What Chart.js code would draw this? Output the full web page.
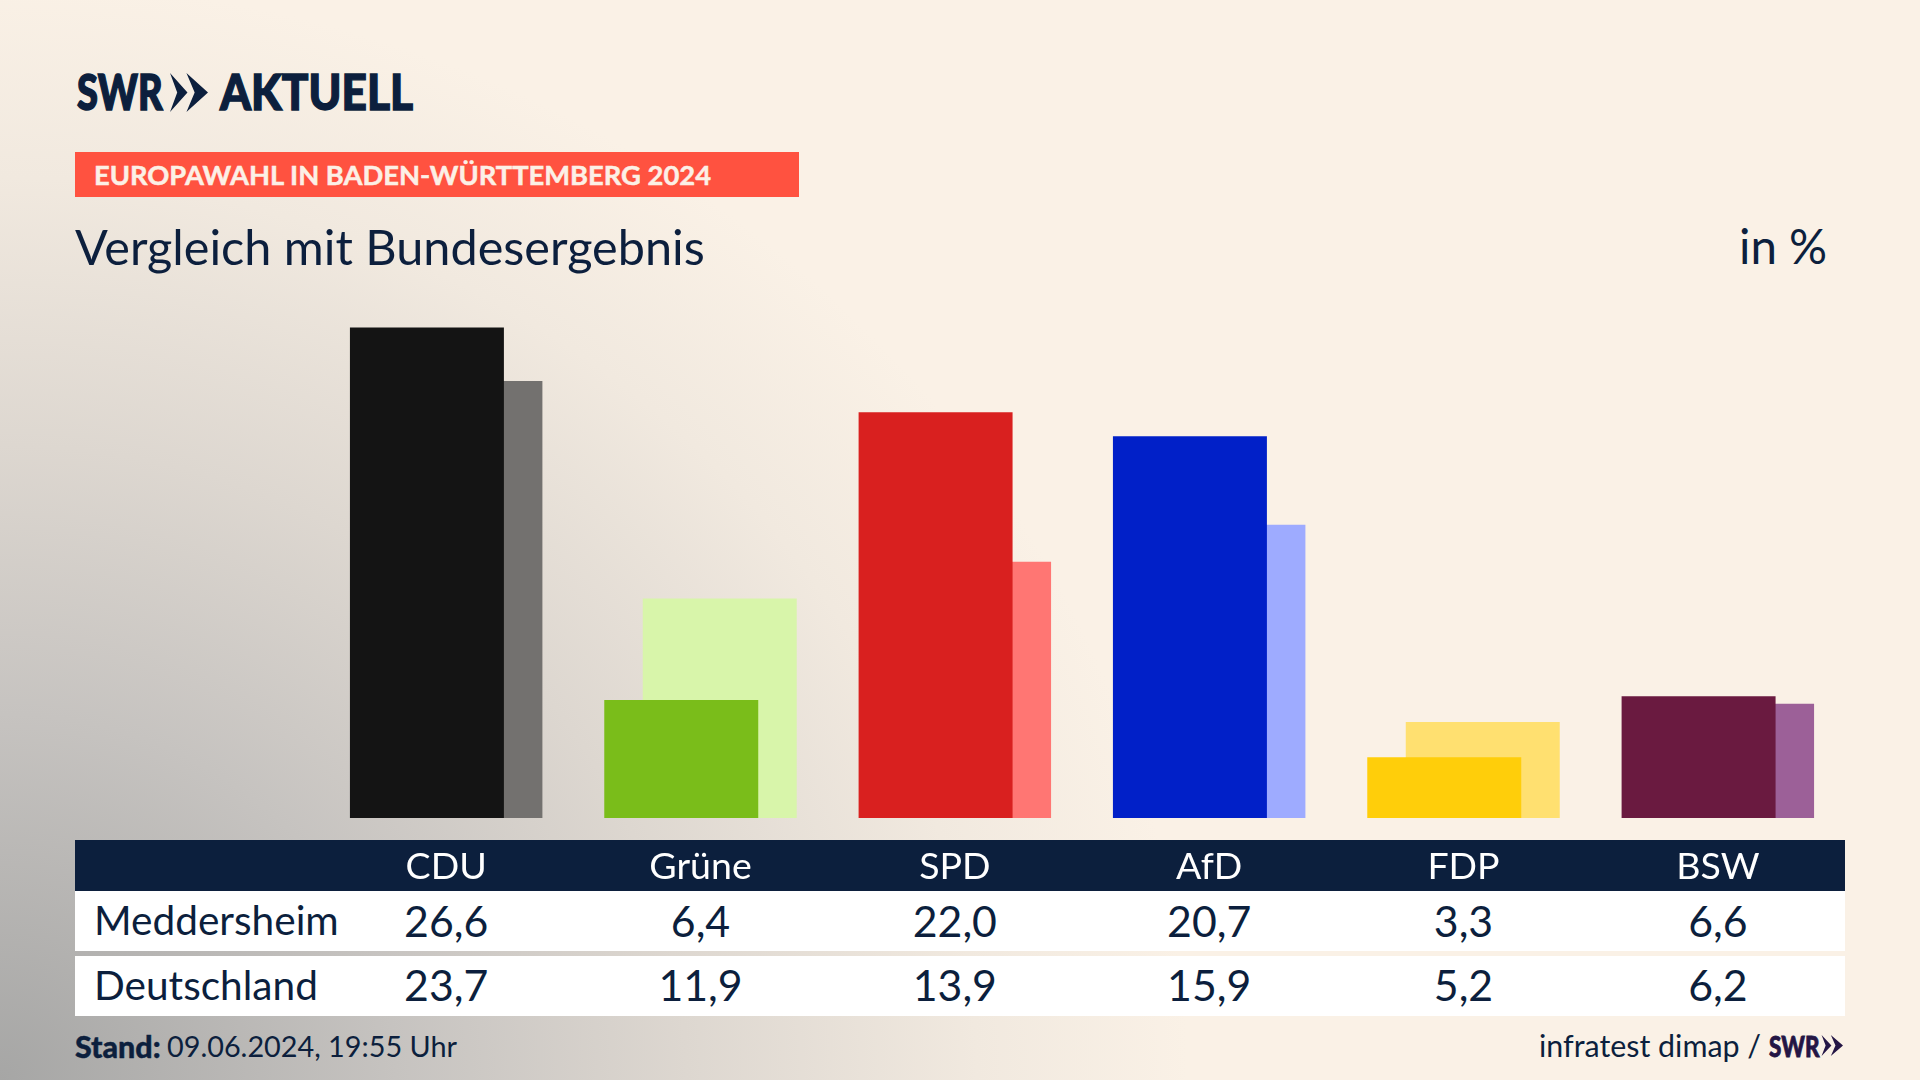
<!DOCTYPE html>
<html lang="de"><head><meta charset="utf-8">
<script src="https://cdn.jsdelivr.net/npm/chart.js@4"></script>
<style>
html,body{margin:0;padding:0;width:1920px;height:1080px;overflow:hidden}
body{position:relative;background:#FAF1E6;font-family:Lato,sans-serif;color:#0C1F3D}
#bg{position:absolute;inset:0;background:radial-gradient(ellipse 1320px 1220px at 0 100%,#a6a6a5 0%,#c6c3c0 30%,#ddd7d0 52%,#f1e9df 74%,#FAF1E6 90%)}
.t{position:absolute;white-space:nowrap;line-height:1;transform-origin:0 0}
.box{position:absolute}
canvas{position:absolute;left:0;top:0;z-index:3}
svg{position:absolute}
</style></head><body>
<div id="bg"></div>
<div id="root"></div>
<canvas id="c" width="1920" height="1080"></canvas>
<script>
const categories = ["CDU","Grüne","SPD","AfD","FDP","BSW"];
const local = [26.6,6.4,22.0,20.7,3.3,6.6];
const national = [23.7,11.9,13.9,15.9,5.2,6.2];
const localName = "Meddersheim";
const nationalName = "Deutschland";
const localColors = ["#141414","#7ABD1A","#D9201F","#0120C8","#FFCE0A","#6A1A40"];
const nationalColors = ["#73716F","#D8F5AA","#FF7673","#9EABFF","#FFE070","#9C6098"];

const root = document.getElementById('root');
function text(s,x,y,size,o={}){
  const e=document.createElement('div');e.className='t';e.textContent=s;
  e.style.left=x+'px';e.style.top=y+'px';e.style.fontSize=size+'px';
  if(o.weight)e.style.fontWeight=o.weight;
  if(o.color)e.style.color=o.color;
  if(o.stroke)e.style.webkitTextStroke=o.stroke+'px '+(o.color||'#0C1F3D');
  if(o.sx)e.style.transform='scaleX('+o.sx+')';
  if(o.center)e.style.transform='translateX(-50%)';
  root.appendChild(e);return e;
}
function box(x,y,w,h,c){const e=document.createElement('div');e.className='box';
  e.style.cssText+=`left:${x}px;top:${y}px;width:${w}px;height:${h}px;background:${c}`;root.appendChild(e);}
function chev(x,y,w,h,c){
  root.insertAdjacentHTML('beforeend',`<svg style="left:${x}px;top:${y}px" width="${w}" height="${h}" viewBox="0 0 38 40" preserveAspectRatio="none"><path fill="${c}" d="M1 0L18 20L1 40L8 20Z M17 0L38 20L17 40L25 20Z"/></svg>`);
}
text("SWR",77,66,50,{weight:900,sx:0.76,stroke:1.6});
chev(169,73,39,39,"#0C1F3D");
text("AKTUELL",220,66,50,{weight:900,sx:0.885,stroke:1.4});
box(75,152,724,45,"#FF5240");
text("EUROPAWAHL IN BADEN-WÜRTTEMBERG 2024",94,161,27,{weight:700,color:"#FCF0E6",sx:1.012,stroke:0.5});
text("Vergleich mit Bundesergebnis",75,222,48.6);
text("in %",1739,222,47.5);
box(75,840,1770,51,"#0C1F3D");
box(75,891,1770,60,"#FFFFFF");
box(75,956,1770,60,"#FFFFFF");
text(localName,94,900,40.6);
text(nationalName,94,965,40.6);
text("Stand:",75,1031,31,{weight:900,sx:0.98,stroke:0.4});
text("09.06.2024, 19:55 Uhr",167,1032,28.8);
text("infratest dimap /",1539,1030,30.4);
text("SWR",1769,1032,28,{weight:900,color:"#241645",sx:0.8,stroke:0.8});
chev(1821,1035,22,21,"#241645");

const chart = new Chart(document.getElementById('c'),{
  type:'bar',
  data:{labels:categories,datasets:[
    {label:localName,data:local,backgroundColor:localColors,borderWidth:0},
    {label:nationalName,data:national,backgroundColor:nationalColors,borderWidth:0}
  ]},
  options:{
    responsive:false,animation:false,devicePixelRatio:1,
    categoryPercentage:0.3027,barPercentage:4,
    layout:{padding:{left:319,right:75,top:301.6,bottom:0}},
    plugins:{legend:{display:false},tooltip:{enabled:false},title:{display:false}},
    scales:{
      x:{afterFit(s){s.height=262},grid:{display:false,drawTicks:false},border:{display:false},
         ticks:{color:"#FFFFFF",font:{family:"Lato",size:37.5},padding:26,autoSkip:false,maxRotation:0,minRotation:0}},
      y:{display:false,min:0,max:28}
    }
  }
});
const fmt=v=>v.toFixed(1).replace('.',',');
categories.forEach((c,i)=>{
  const x=chart.scales.x.getPixelForTick(i);
  text(fmt(local[i]),x,900,42.8,{center:true});
  text(fmt(national[i]),x,964,42.8,{center:true});
});
</script></body></html>
